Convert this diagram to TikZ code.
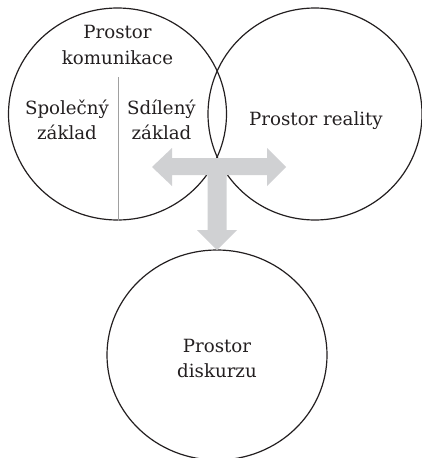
\documentclass[tikz,border=0pt]{standalone}
\usepackage{fontspec}
\setmainfont{DejaVu Serif}
\usetikzlibrary{shapes.geometric}
\definecolor{arrowgray}{RGB}{208,209,211}
\definecolor{linegray}{RGB}{160,160,160}
\definecolor{ink}{RGB}{35,31,32}
\tikzset{
  space/.style={draw=ink, line width=1.2pt, ellipse, minimum width=#1, minimum height=212, inner sep=0pt},
  lbl/.style={anchor=base, text=ink, font=\fontsize{18.2}{22}\selectfont, inner sep=0pt},
}
\begin{document}
\begin{tikzpicture}[x=1pt,y=-1pt]
\useasboundingbox (0,0) rectangle (422,458);
% circles
\node[space=218] (kom) at (117.5,114) {};
\node[space=214] (real) at (315,114) {};
\node[space=220, minimum height=210] (disk) at (217,355) {};
% divider
\coordinate (divtop) at (118,77);
\draw[linegray, line width=0.9pt] (divtop) -- (kom.south -| divtop);
% arrows
\fill[arrowgray] (152,167) -- (172,148) -- (172,158) -- (267,158) -- (267,148) -- (286,167)
  -- (267,186) -- (267,175) -- (226.5,175) -- (226.5,230) -- (237,230) -- (217,250)
  -- (197,230) -- (207.5,230) -- (207.5,175) -- (172,175) -- (172,186) -- cycle;
% texts
\node[lbl] (k1) at (117.5,38.5) {Prostor};
\node[lbl] (k2) at (117.5,64) {komunikace};
\node[lbl] (s1) at (67,114.5) {Společný};
\node[lbl] (s2) at (67,139) {základ};
\node[lbl] (d1) at (161.5,114.5) {Sdílený};
\node[lbl] (d2) at (161.5,139) {základ};
\node[lbl] (r1) at (316,125) {Prostor reality};
\node[lbl] (p1) at (217,352) {Prostor};
\node[lbl] (p2) at (217,377) {diskurzu};
\end{tikzpicture}
\end{document}
